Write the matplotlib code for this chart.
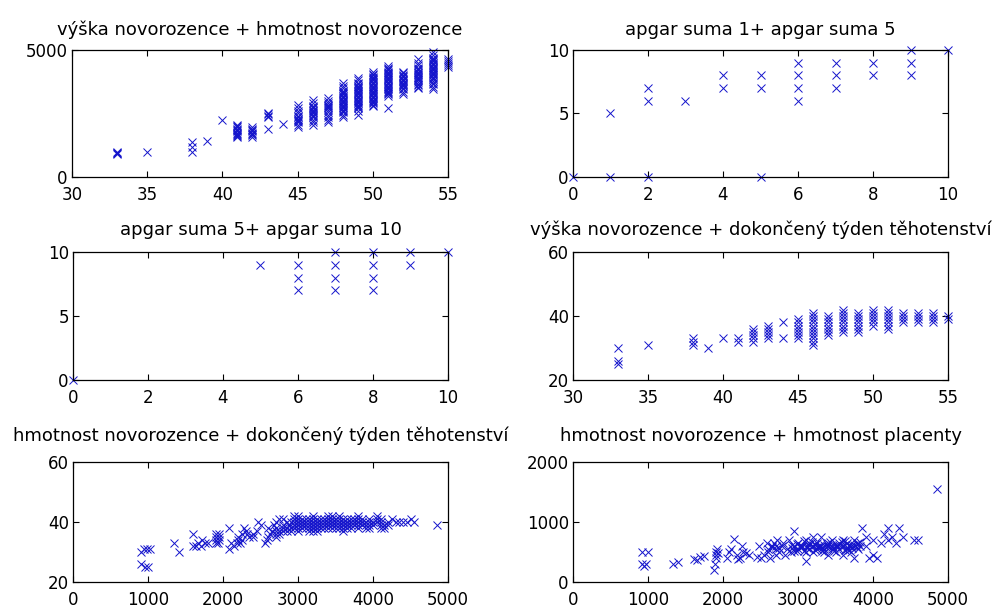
import matplotlib
matplotlib.use("Agg")
import matplotlib.pyplot as plt

plt.rcParams['font.family'] = ['DejaVu Sans']

# ---------------- data ----------------
# panel 1: length (cm) -> weights (g)
p1_lengths = [33, 35, 38, 39, 40, 41, 42, 43, 44, 45, 46, 47, 48, 49, 50, 51, 52, 53, 54, 55]
p1_weights = [
    [900, 930, 960, 980],
    [980],
    [1000, 1180, 1380],
    [1420],
    [2250],
    [1580, 1620, 1660, 1700, 1750, 1800, 1850, 1900, 1950, 2000, 2050],
    [1580, 1650, 1700, 1750, 1800, 1850, 1900, 1950],
    [1900, 2360, 2420, 2480, 2520],
    [2100],
    [1950, 2050, 2150, 2200, 2250, 2300, 2350, 2400, 2500, 2600, 2700, 2820],
    [2050, 2150, 2250, 2350, 2400, 2450, 2500, 2550, 2600, 2650, 2700, 2750, 2800, 2900, 3050],
    [2150, 2250, 2350, 2450, 2550, 2650, 2700, 2750, 2800, 2850, 2900, 3000, 3100],
    [2350, 2450, 2550, 2600, 2650, 2700, 2750, 2800, 2850, 2900, 2950, 3000, 3050, 3100, 3150, 3200, 3250, 3300, 3350, 3400, 3500, 3600, 3700],
    [2450, 2600, 2700, 2750, 2800, 2850, 2900, 2950, 3000, 3050, 3100, 3150, 3200, 3250, 3300, 3350, 3400, 3450, 3500, 3550, 3600, 3650, 3700, 3800, 3900],
    [2780, 2850, 2900, 2950, 3000, 3050, 3100, 3150, 3200, 3250, 3300, 3350, 3400, 3450, 3500, 3550, 3600, 3650, 3700, 3750, 3800, 3850, 3900, 3950, 4000, 4050, 4120],
    [2700, 3180, 3250, 3300, 3350, 3400, 3450, 3500, 3550, 3600, 3650, 3700, 3750, 3800, 3850, 3900, 3950, 4000, 4050, 4100, 4150, 4200, 4250, 4300, 4380],
    [3250, 3350, 3450, 3520, 3570, 3620, 3670, 3720, 3770, 3820, 3870, 3920, 3970, 4020, 4080, 4150],
    [3500, 3560, 3620, 3680, 3740, 3800, 3850, 3900, 3950, 4000, 4050, 4100, 4150, 4200, 4250, 4300, 4400, 4500, 4650],
    [3450, 3550, 3650, 3720, 3780, 3840, 3900, 3950, 4000, 4050, 4100, 4150, 4200, 4250, 4300, 4350, 4400, 4450, 4500, 4550, 4600, 4650, 4700, 4800, 4920],
    [4350, 4420, 4480, 4550, 4650],
]

# panel 2: apgar 1 vs apgar 5
p2_apgar1 = [0, 1, 1, 2, 2, 2, 3, 4, 4, 5, 5, 5, 6, 6, 6, 6, 7, 7, 7, 8, 8, 9, 9, 9, 10]
p2_apgar5 = [0, 0, 5, 0, 6, 7, 6, 7, 8, 0, 7, 8, 6, 7, 8, 9, 7, 8, 9, 8, 9, 8, 9, 10, 10]

# panel 3: apgar 5 vs apgar 10
p3_apgar5 = [0, 5, 6, 6, 6, 7, 7, 7, 7, 8, 8, 8, 8, 9, 9, 10]
p3_apgar10 = [0, 9, 7, 8, 9, 7, 8, 9, 10, 7, 8, 9, 10, 9, 10, 10]

# panel 4: length (cm) -> completed weeks
p4_lengths = [33, 35, 38, 39, 40, 41, 42, 43, 44, 45, 46, 47, 48, 49, 50, 51, 52, 53, 54, 55]
p4_weeks = [
    [25, 26, 30],
    [31],
    [31, 32, 33],
    [30],
    [33],
    [32, 33],
    [32, 33, 34, 35, 36],
    [33, 34, 35, 36, 37],
    [33, 38],
    [33, 34, 35, 36, 37, 38, 39],
    [31, 32, 33, 34, 35, 36, 37, 38, 39, 40, 41],
    [34, 35, 36, 37, 38, 39, 40],
    [35, 36, 37, 38, 39, 40, 41, 42],
    [35, 36, 37, 38, 39, 40, 41],
    [37, 38, 39, 40, 41, 42],
    [36, 37, 38, 39, 40, 41, 42],
    [38, 39, 40, 41],
    [38, 39, 40, 41],
    [38, 39, 40, 41],
    [39, 40],
]

# panel 5: completed weeks -> weights (g)
p5_weeks = [25, 26, 30, 31, 32, 33, 34, 35, 36, 37, 38, 39, 40, 41, 42]
p5_weights = [
    [960, 1000],
    [910],
    [910, 1410],
    [950, 990, 1020, 2080],
    [1600, 1640, 1700, 2150],
    [1340, 1660, 1760, 1800, 1900, 1930, 2100, 2180, 2230, 2560],
    [1720, 1900, 1940, 2200, 2250, 2580],
    [1900, 1940, 2200, 2350, 2400, 2600, 2700],
    [1600, 1900, 1950, 2250, 2320, 2400, 2620, 2700, 2750],
    [2300, 2450, 2650, 2700, 2750, 2800, 2850, 2900, 3000, 3150, 3200, 3250, 3600],
    [2080, 2280, 2600, 2700, 2800, 2850, 2900, 2950, 3000, 3050, 3100, 3150, 3200, 3250, 3300, 3350,
     3400, 3450, 3500, 3550, 3600, 3650, 3700, 3800, 3900, 3950, 4100, 4150],
    [2500, 2680, 2800, 2880, 2950, 3000, 3050, 3100, 3150, 3200, 3250, 3300, 3350, 3400, 3450, 3500,
     3550, 3600, 3650, 3700, 3750, 3800, 3850, 3900, 3950, 4000, 4100, 4150, 4200, 4850],
    [2460, 2700, 2850, 2900, 2950, 3000, 3050, 3100, 3150, 3200, 3250, 3300, 3350, 3400, 3450, 3500,
     3550, 3600, 3650, 3700, 3750, 3800, 3850, 3900, 3950, 4000, 4050, 4100, 4200, 4300, 4350, 4400, 4450, 4550],
    [2750, 2800, 2950, 3000, 3050, 3100, 3150, 3200, 3250, 3300, 3350, 3400, 3450, 3500, 3550, 3600,
     3650, 3700, 3750, 3800, 3850, 3950, 4050, 4100, 4250, 4500],
    [2950, 3000, 3200, 3400, 3450, 3550, 3800, 4050],
]

# panel 6: weight (g) vs placenta weight (g)
p6_weight = [920, 1000, 920, 950, 980, 1340, 1400, 1620, 1650, 1700, 1750,
             1880, 1890, 1900, 1900, 1900, 1920, 1930,
             2050, 2080, 2100, 2150, 2180, 2200, 2220, 2250, 2270, 2300, 2350,
             2450, 2480, 2500, 2550, 2580, 2600, 2600, 2620, 2650, 2680, 2700, 2700, 2720, 2750, 2780,
             2800, 2820, 2850, 2880, 2900, 2950,
             2950, 3000, 3000, 3050, 3100, 3100, 3150, 3150, 3200, 3200, 3250, 3250, 3300, 3300,
             3350, 3350, 3400, 3400, 3450, 3450, 3500, 3500, 3550, 3550, 3600, 3600, 3650, 3650,
             3700, 3700, 3750, 3800, 3800,
             2950, 3050, 3150, 3250, 3350, 3450, 3550, 3650, 3750,
             2920, 2980, 3020, 3080, 3120, 3180, 3220, 3280, 3320, 3380, 3420, 3480, 3520, 3580,
             3620, 3680, 3720, 3780, 3820,
             2920, 2980, 3020, 3080, 3120, 3180, 3220, 3280, 3320, 3380, 3420, 3480, 3520, 3580,
             3620, 3680, 3720, 3780, 3820,
             2650, 2700, 2750,
             3100, 3200, 3400, 3600, 3750, 3850, 3900, 3900, 3950, 4000, 4000, 4050, 4100, 4150,
             4200, 4200, 4250, 4300, 4350, 4400, 4550, 4600, 4850]
p6_placenta = [500, 500, 300, 270, 300, 300, 330, 380, 360, 420, 440,
               200, 300, 400, 450, 500, 550, 480,
               400, 500, 550, 720, 450, 380, 400, 600, 500, 480, 450,
               420, 600, 400, 450, 650, 500, 550, 400, 600, 650, 450, 550, 700, 500, 600,
               650, 450, 550, 700, 500, 850,
               600, 550, 650, 600, 500, 700, 550, 650, 600, 500, 550, 650, 600, 750,
               500, 550, 600, 650, 700, 550, 600, 500, 650, 550, 600, 700, 550, 650,
               600, 500, 700, 650, 550,
               520, 580, 620, 580, 620, 580, 620, 580, 620,
               560, 640, 580, 520, 600, 660, 540, 600, 560, 640, 580, 520, 600, 660,
               540, 600, 560, 640, 600,
               620, 520, 600, 680, 560, 600, 640, 580, 520, 600, 660, 560, 620, 600,
               680, 540, 620, 580, 660,
               580, 600, 560,
               350, 750, 450, 450, 400, 900, 750, 600, 400, 700, 450, 400, 650, 800,
               900, 700, 750, 650, 900, 750, 700, 700, 1550]

# ---------------- plotting ----------------
W, H = 995, 610
fig = plt.figure(figsize=(W / 100, H / 100), dpi=100, facecolor='white')

def axbox(left, top, right, bottom):
    return [left / W, (H - bottom) / H, (right - left) / W, (bottom - top) / H]

mk = dict(linestyle='none', marker='x', color='#1414cc', markersize=5.2,
          markeredgewidth=0.7, clip_on=False)

def style(ax, title, xlim, ylim, xticks, yticks, tpad):
    ax.set_xlim(*xlim)
    ax.set_ylim(*ylim)
    ax.set_xticks(xticks)
    ax.set_yticks(yticks)
    ax.tick_params(direction='in', top=True, right=True, length=4, width=0.8,
                   labelsize=12, colors='black')
    ax.tick_params(axis='x', pad=6.5)
    ax.tick_params(axis='y', pad=3)
    for s in ax.spines.values():
        s.set_linewidth(0.9)
    ax.set_title(title, fontsize=13, pad=tpad)

# panel 1
ax1 = fig.add_axes(axbox(72, 50, 448, 177))
xs, ys = [], []
for L, ws in zip(p1_lengths, p1_weights):
    xs += [L] * len(ws)
    ys += ws
ax1.plot(xs, ys, **mk)
style(ax1, 'výška novorozence + hmotnost novorozence', (30, 55), (0, 5000),
      [30, 35, 40, 45, 50, 55], [0, 5000], 11)

# panel 2
ax2 = fig.add_axes(axbox(573, 50, 948, 177))
ax2.plot(p2_apgar1, p2_apgar5, **mk)
style(ax2, 'apgar suma 1+ apgar suma 5', (0, 10), (0, 10),
      [0, 2, 4, 6, 8, 10], [0, 5, 10], 11)

# panel 3
ax3 = fig.add_axes(axbox(73, 252, 448, 380))
ax3.plot(p3_apgar5, p3_apgar10, **mk)
style(ax3, 'apgar suma 5+ apgar suma 10', (0, 10), (0, 10),
      [0, 2, 4, 6, 8, 10], [0, 5, 10], 12)

# panel 4
ax4 = fig.add_axes(axbox(573, 252, 948, 380))
xs, ys = [], []
for L, wk in zip(p4_lengths, p4_weeks):
    xs += [L] * len(wk)
    ys += wk
ax4.plot(xs, ys, **mk)
style(ax4, 'výška novorozence + dokončený týden těhotenství', (30, 55), (20, 60),
      [30, 35, 40, 45, 50, 55], [20, 40, 60], 12)

# panel 5
ax5 = fig.add_axes(axbox(73, 462, 448, 582))
xs, ys = [], []
for wk, ws in zip(p5_weeks, p5_weights):
    xs += ws
    ys += [wk] * len(ws)
ax5.plot(xs, ys, **mk)
style(ax5, 'hmotnost novorozence + dokončený týden těhotenství', (0, 5000), (20, 60),
      [0, 1000, 2000, 3000, 4000, 5000], [20, 40, 60], 15)

# panel 6
ax6 = fig.add_axes(axbox(573, 462, 948, 582))
ax6.plot(p6_weight, p6_placenta, **mk)
style(ax6, 'hmotnost novorozence + hmotnost placenty', (0, 5000), (0, 2000),
      [0, 1000, 2000, 3000, 4000, 5000], [0, 1000, 2000], 15)

fig.savefig('out.png', dpi=100, facecolor='white')
